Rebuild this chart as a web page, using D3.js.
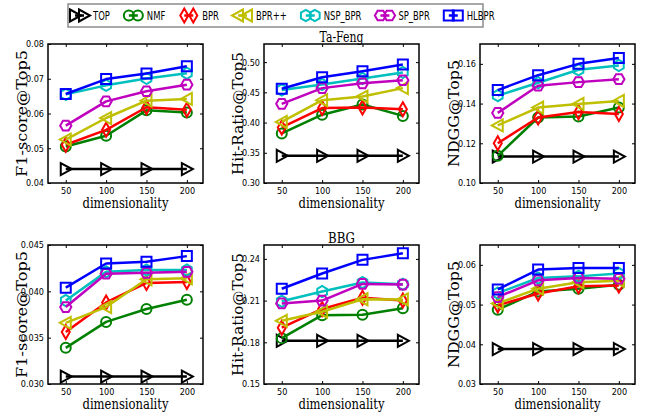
<!DOCTYPE html>
<html><head><meta charset="utf-8">
<script src="https://cdn.jsdelivr.net/npm/d3@7"></script>
<style>body{margin:0;background:#fff}svg{display:block}</style>
</head><body><svg id="c" width="649" height="420"></svg>
<script>
const dims = [50, 100, 150, 200];
const methods = ["TOP", "NMF", "BPR", "BPR++", "NSP_BPR", "SP_BPR", "HLBPR"];
const colors = ["#000000", "#008000", "#ff0000", "#bfbf00", "#00bfbf", "#bf00bf", "#0000ff"];
const markers = ["triRight", "circle", "thinDiamond", "triLeft", "hexPointy", "hexFlat", "square"];

// rows follow `methods`, columns follow `dims`
const tafengF1 = [
  [0.0440, 0.0440, 0.0440, 0.0440],
  [0.0505, 0.0536, 0.0609, 0.0603],
  [0.0510, 0.0553, 0.0618, 0.0611],
  [0.0525, 0.0587, 0.0637, 0.0642],
  [0.0655, 0.0681, 0.0701, 0.0716],
  [0.0565, 0.0635, 0.0664, 0.0683],
  [0.0656, 0.0699, 0.0715, 0.0736]
];
const tafengHR = [
  [0.345, 0.345, 0.345, 0.345],
  [0.382, 0.413, 0.430, 0.411],
  [0.392, 0.424, 0.425, 0.422],
  [0.401, 0.437, 0.443, 0.457],
  [0.454, 0.463, 0.473, 0.483],
  [0.431, 0.457, 0.465, 0.470],
  [0.456, 0.475, 0.485, 0.496]
];
const tafengNDCG = [
  [0.1133, 0.1133, 0.1133, 0.1133],
  [0.1137, 0.1330, 0.1335, 0.1380],
  [0.1200, 0.1330, 0.1357, 0.1348],
  [0.1290, 0.1380, 0.1398, 0.1413],
  [0.1440, 0.1505, 0.1570, 0.1592],
  [0.1353, 0.1490, 0.1508, 0.1523],
  [0.1468, 0.1543, 0.1600, 0.1630]
];
const bbgF1 = [
  [0.0308, 0.0308, 0.0308, 0.0308],
  [0.0339, 0.0367, 0.0381, 0.0391],
  [0.0356, 0.0388, 0.0409, 0.0410],
  [0.0366, 0.0383, 0.0413, 0.0414],
  [0.0390, 0.0421, 0.0423, 0.0423],
  [0.0383, 0.0419, 0.0420, 0.0421],
  [0.0404, 0.0430, 0.0432, 0.0438]
];
const bbgHR = [
  [0.1811, 0.1811, 0.1811, 0.1811],
  [0.1830, 0.1995, 0.1998, 0.2045],
  [0.1905, 0.2040, 0.2120, 0.2100],
  [0.1955, 0.2020, 0.2110, 0.2108],
  [0.2095, 0.2165, 0.2230, 0.2218],
  [0.2080, 0.2100, 0.2220, 0.2215],
  [0.2185, 0.2295, 0.2393, 0.2440]
];
const bbgNDCG = [
  [0.0388, 0.0388, 0.0388, 0.0388],
  [0.0487, 0.0533, 0.0540, 0.0550],
  [0.0498, 0.0528, 0.0546, 0.0548],
  [0.0503, 0.0540, 0.0556, 0.0560],
  [0.0529, 0.0567, 0.0571, 0.0578],
  [0.0519, 0.0561, 0.0567, 0.0565],
  [0.0538, 0.0588, 0.0592, 0.0592]
];

const ticksF1T = [0.04, 0.05, 0.06, 0.07, 0.08];
const ticksHRT = [0.30, 0.35, 0.40, 0.45, 0.50];
const ticksNDT = [0.10, 0.12, 0.14, 0.16];
const ticksF1B = [0.030, 0.035, 0.040, 0.045];
const ticksHRB = [0.15, 0.18, 0.21, 0.24];
const ticksNDB = [0.03, 0.04, 0.05, 0.06];

const titles = ["Ta-Feng", "BBG"];
const yLabels = ["F1-score@Top5", "Hit-Ratio@Top5", "NDGG@Top5"];
const xLabel = "dimensionality";

const panels = [
  {row: 0, col: 0, data: tafengF1, dom: [0.04, 0.08], ticks: ticksF1T, fmt: ".2f"},
  {row: 0, col: 1, data: tafengHR, dom: [0.30, 0.53], ticks: ticksHRT, fmt: ".2f"},
  {row: 0, col: 2, data: tafengNDCG, dom: [0.10, 0.17], ticks: ticksNDT, fmt: ".2f"},
  {row: 1, col: 0, data: bbgF1, dom: [0.030, 0.045], ticks: ticksF1B, fmt: ".3f"},
  {row: 1, col: 1, data: bbgHR, dom: [0.15, 0.25], ticks: ticksHRB, fmt: ".2f"},
  {row: 1, col: 2, data: bbgNDCG, dom: [0.03, 0.065], ticks: ticksNDB, fmt: ".2f"}
];

const colLeft = [48, 264, 480];
const rowTop = [44, 245];
const pw = 155, ph = 139;
const yLabelLen = [127, 123, 107];

function markerPath(type) {
  const p = d3.path();
  if (type === "triRight") { p.moveTo(-5, -6); p.lineTo(6, 0); p.lineTo(-5, 6); p.closePath(); }
  else if (type === "triLeft") { p.moveTo(5, -6); p.lineTo(-6, 0); p.lineTo(5, 6); p.closePath(); }
  else if (type === "circle") { p.moveTo(5, 0); p.arc(0, 0, 5, 0, 2 * Math.PI); p.closePath(); }
  else if (type === "thinDiamond") { p.moveTo(0, -7); p.lineTo(4, 0); p.lineTo(0, 7); p.lineTo(-4, 0); p.closePath(); }
  else if (type === "square") { p.rect(-5, -5, 10, 10); }
  else {
    const off = type === "hexPointy" ? Math.PI / 2 : 0;
    const r = 5.6;
    for (let k = 0; k < 6; k++) {
      const a = off + k * Math.PI / 3;
      const x = r * Math.cos(a), y = r * Math.sin(a);
      if (k === 0) p.moveTo(x, y); else p.lineTo(x, y);
    }
    p.closePath();
  }
  return p.toString();
}

const svg = d3.select("#c");
const serif = "'DejaVu Serif', serif";
const sans = "'DejaVu Sans Condensed', 'DejaVu Sans', sans-serif";

panels.forEach(P => {
  const left = colLeft[P.col], top = rowTop[P.row];
  const g = svg.append("g").attr("transform", `translate(${left},${top})`);
  const x = d3.scaleLinear().domain([28, 220]).range([0, pw]);
  const y = d3.scaleLinear().domain(P.dom).range([ph, 0]);

  const axL = d3.axisLeft(y).tickValues(P.ticks).tickFormat(d3.format(P.fmt)).tickSizeInner(-3).tickSizeOuter(0).tickPadding(3);
  const axR = d3.axisRight(y).tickValues(P.ticks).tickFormat("").tickSizeInner(-3).tickSizeOuter(0);
  const axB = d3.axisBottom(x).tickValues(dims).tickFormat(d3.format("d")).tickSizeInner(-3).tickSizeOuter(0).tickPadding(3);
  const axT = d3.axisTop(x).tickValues(dims).tickFormat("").tickSizeInner(-3).tickSizeOuter(0);
  const gl = g.append("g").call(axL);
  const gr = g.append("g").attr("transform", `translate(${pw},0)`).call(axR);
  const gb = g.append("g").attr("transform", `translate(0,${ph})`).call(axB);
  const gt = g.append("g").call(axT);
  [gl, gr, gb, gt].forEach(a => { a.select(".domain").remove(); a.selectAll("line").attr("stroke", "#000"); });
  [gl, gb].forEach(a => a.selectAll("text").attr("font-family", sans).attr("font-size", 9).attr("fill", "#000"));
  gb.selectAll("text").attr("dy", "0.9em");
  gl.selectAll("text").attr("dx", "-1");

  const line = d3.line().x((d, i) => x(dims[i])).y(d => y(d));
  methods.forEach((m, mi) => {
    const vals = P.data[mi];
    g.append("path").attr("d", line(vals)).attr("fill", "none")
      .attr("stroke", colors[mi]).attr("stroke-width", 2.5).attr("stroke-linejoin", "round");
    g.selectAll(null).data(vals).enter().append("path")
      .attr("d", markerPath(markers[mi]))
      .attr("transform", (d, i) => `translate(${x(dims[i])},${y(d)})`)
      .attr("fill", "none").attr("stroke", colors[mi]).attr("stroke-width", 2);
  });

  g.append("rect").attr("width", pw).attr("height", ph).attr("fill", "none").attr("stroke", "#000").attr("stroke-width", 1.5);

  g.append("text").attr("x", pw / 2).attr("y", ph + 25).attr("text-anchor", "middle")
    .attr("font-family", serif).attr("font-size", 14)
    .attr("textLength", 86).attr("lengthAdjust", "spacingAndGlyphs").text(xLabel);

  g.append("text").attr("transform", `translate(${-26},${ph / 2}) rotate(-90)`).attr("dy", "0.35em")
    .attr("text-anchor", "middle").attr("font-family", serif).attr("font-size", 14)
    .attr("textLength", yLabelLen[P.col]).attr("lengthAdjust", "spacingAndGlyphs").text(yLabels[P.col]);

  if (P.col === 1) {
    g.append("text").attr("x", pw / 2).attr("y", -2).attr("text-anchor", "middle")
      .attr("font-family", serif).attr("font-size", 14)
      .attr("textLength", P.row === 0 ? 44 : 27).attr("lengthAdjust", "spacingAndGlyphs")
      .text(titles[P.row]);
  }
});

// legend
const lg = svg.append("g");
lg.append("rect").attr("x", 68).attr("y", 4).attr("width", 415).attr("height", 23)
  .attr("fill", "#fff").attr("stroke", "#8c8c8c").attr("stroke-width", 1.5);
let lx = 75;
methods.forEach((m, mi) => {
  const e = lg.append("g");
  e.append("line").attr("x1", lx).attr("x2", lx + 9).attr("y1", 15.5).attr("y2", 15.5)
    .attr("stroke", colors[mi]).attr("stroke-width", 2.5);
  [lx, lx + 9].forEach(cx => {
    e.append("path").attr("d", markerPath(markers[mi])).attr("transform", `translate(${cx},15.5)`)
      .attr("fill", "none").attr("stroke", colors[mi]).attr("stroke-width", 2);
  });
  const t = e.append("text").attr("x", lx + 18).attr("y", 19.5).attr("font-family", sans)
    .attr("font-size", 12).attr("fill", "#000").text(m);
  const w = t.node().getComputedTextLength() * 0.78;
  t.attr("textLength", w).attr("lengthAdjust", "spacingAndGlyphs");
  lx = lx + 18 + w + 19;
});
</script>
</body></html>
